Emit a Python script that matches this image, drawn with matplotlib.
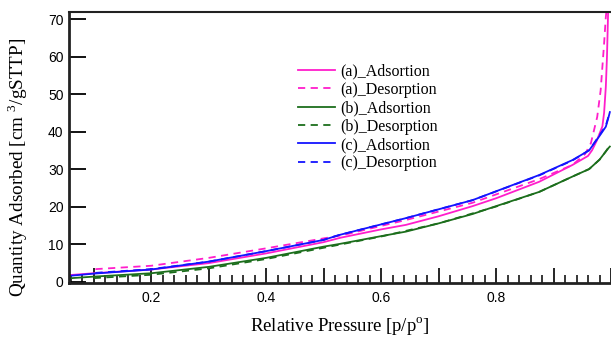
import numpy as np
import matplotlib
matplotlib.use('Agg')
import matplotlib.pyplot as plt
from matplotlib.ticker import MultipleLocator, FuncFormatter

plt.rcParams['mathtext.fontset'] = 'custom'
plt.rcParams['mathtext.rm'] = 'Liberation Serif'

# (a) adsorption / desorption
a_ads_x = [0.057, 0.10, 0.20, 0.30, 0.40, 0.50, 0.53, 0.60, 0.643, 0.70, 0.759, 0.80, 0.875,
           0.933, 0.96, 0.967, 0.975, 0.985, 0.988, 0.991, 0.993, 0.995]
a_ads_y = [1.7, 2.2, 3.2, 4.9, 7.5, 10.5, 11.7, 13.9, 15.1, 17.4, 20.1, 22.2, 26.6,
           31.1, 33.5, 35.0, 37.5, 41.4, 45.0, 52.0, 60.0, 72.0]
a_des_x = [0.103, 0.20, 0.30, 0.40, 0.50, 0.534, 0.643, 0.759, 0.875, 0.933, 0.955,
           0.965, 0.976, 0.982, 0.988, 0.991, 0.992]
a_des_y = [3.3, 4.2, 6.3, 8.85, 11.5, 12.4, 16.4, 21.0, 27.3, 31.1, 34.0,
           36.9, 43.9, 51.0, 63.5, 70.6, 72.0]

# (b) adsorption / desorption
b_ads_x = [0.057, 0.10, 0.20, 0.30, 0.40, 0.50, 0.527, 0.60, 0.643, 0.70, 0.759, 0.80, 0.875,
           0.933, 0.962, 0.98, 0.99, 0.995, 0.998]
b_ads_y = [0.85, 1.3, 2.2, 3.9, 6.3, 9.3, 10.0, 12.1, 13.3, 15.5, 18.0, 20.1, 23.9,
           28.0, 30.0, 32.5, 34.5, 35.5, 36.0]
b_des_x = [0.10, 0.20, 0.30, 0.40, 0.50, 0.60, 0.70, 0.80, 0.875, 0.933, 0.962, 0.98, 0.99, 0.996]
b_des_y = [0.9, 1.8, 3.5, 6.0, 9.0, 12.0, 15.5, 20.0, 23.9, 28.0, 30.0, 32.5, 34.5, 35.8]

# (c) adsorption / desorption
c_ads_x = [0.057, 0.10, 0.20, 0.30, 0.40, 0.50, 0.527, 0.643, 0.759, 0.875, 0.933, 0.962,
           0.979, 0.991, 0.996, 0.998]
c_ads_y = [1.5, 2.1, 3.2, 5.3, 8.1, 11.1, 12.4, 16.9, 21.7, 28.4, 32.4, 35.0,
           38.6, 41.3, 44.0, 45.2]
c_des_x = [0.103, 0.20, 0.30, 0.40, 0.50, 0.527, 0.643, 0.759, 0.875, 0.933, 0.962,
           0.979, 0.991, 0.996, 0.998]
c_des_y = [2.3, 3.3, 5.3, 8.1, 11.1, 12.4, 16.9, 21.7, 28.3, 32.3, 35.0,
           38.8, 41.6, 44.2, 45.2]

x_labelled = [0.2, 0.4, 0.6, 0.8]

magenta = '#ff1ecb'
green = '#1c6e1c'
blue = '#1414ff'
dash = (0, (4, 3))

fig = plt.figure(figsize=(6.11, 3.39), dpi=100)
ax = fig.add_axes([69/611, 1-283/339, 1-69/611, (283-12)/339])

lw = 1.3
ax.plot(a_ads_x, a_ads_y, color=magenta, lw=lw, label='(a)_Adsortion')
ax.plot(a_des_x, a_des_y, color=magenta, lw=lw, ls=dash, label='(a)_Desorption')
ax.plot(b_ads_x, b_ads_y, color=green, lw=lw, label='(b)_Adsortion')
ax.plot(b_des_x, b_des_y, color=green, lw=lw, ls=dash, label='(b)_Desorption')
ax.plot(c_ads_x, c_ads_y, color=blue, lw=lw, label='(c)_Adsortion')
ax.plot(c_des_x, c_des_y, color=blue, lw=lw, ls=dash, label='(c)_Desorption')

ax.set_xlim(0.057, 1.0)
ax.set_ylim(-0.4, 71.9)

def xfmt(v, p):
    for t in x_labelled:
        if abs(v - t) < 1e-6:
            return '%.1f' % t
    return ''

ax.xaxis.set_major_locator(MultipleLocator(0.1))
ax.xaxis.set_major_formatter(FuncFormatter(xfmt))
ax.xaxis.set_minor_locator(MultipleLocator(0.02))
ax.yaxis.set_major_locator(MultipleLocator(10))

ax.tick_params(axis='x', which='major', direction='in', length=11, width=1.2,
               pad=6, labelsize=10, top=False)
ax.tick_params(axis='x', which='minor', direction='in', length=6, width=1.1, top=False)
ax.tick_params(axis='y', which='major', direction='in', length=12, width=1.3,
               pad=4, labelsize=10, right=False)
for lab in ax.get_xticklabels() + ax.get_yticklabels():
    lab.set_family('Liberation Sans')

ax.spines['right'].set_visible(False)
ax.spines['left'].set_linewidth(2)
ax.spines['bottom'].set_linewidth(2)
ax.spines['top'].set_linewidth(1.5)
for s in ax.spines.values():
    s.set_color('#222222')

ax.set_xlabel('Relative Pressure [p/p$^{\\mathrm{o}}$]', family='Liberation Serif',
              fontsize=13.5)
ax.set_ylabel('Quantity Adsorbed [cm $^{\\mathrm{3}}$/gSTTP]', family='Liberation Serif',
              fontsize=13.8)
ax.xaxis.set_label_coords(0.5, -0.118)
ax.yaxis.set_label_coords(-0.072, 0.428)

leg = ax.legend(loc='upper left', bbox_to_anchor=(0.423, 0.81), frameon=False,
                prop={'family': 'Liberation Serif', 'size': 11.5}, handlelength=2.3,
                handletextpad=0.35, labelspacing=0.15, borderpad=0, borderaxespad=0)

fig.savefig('out.png', dpi=100)
